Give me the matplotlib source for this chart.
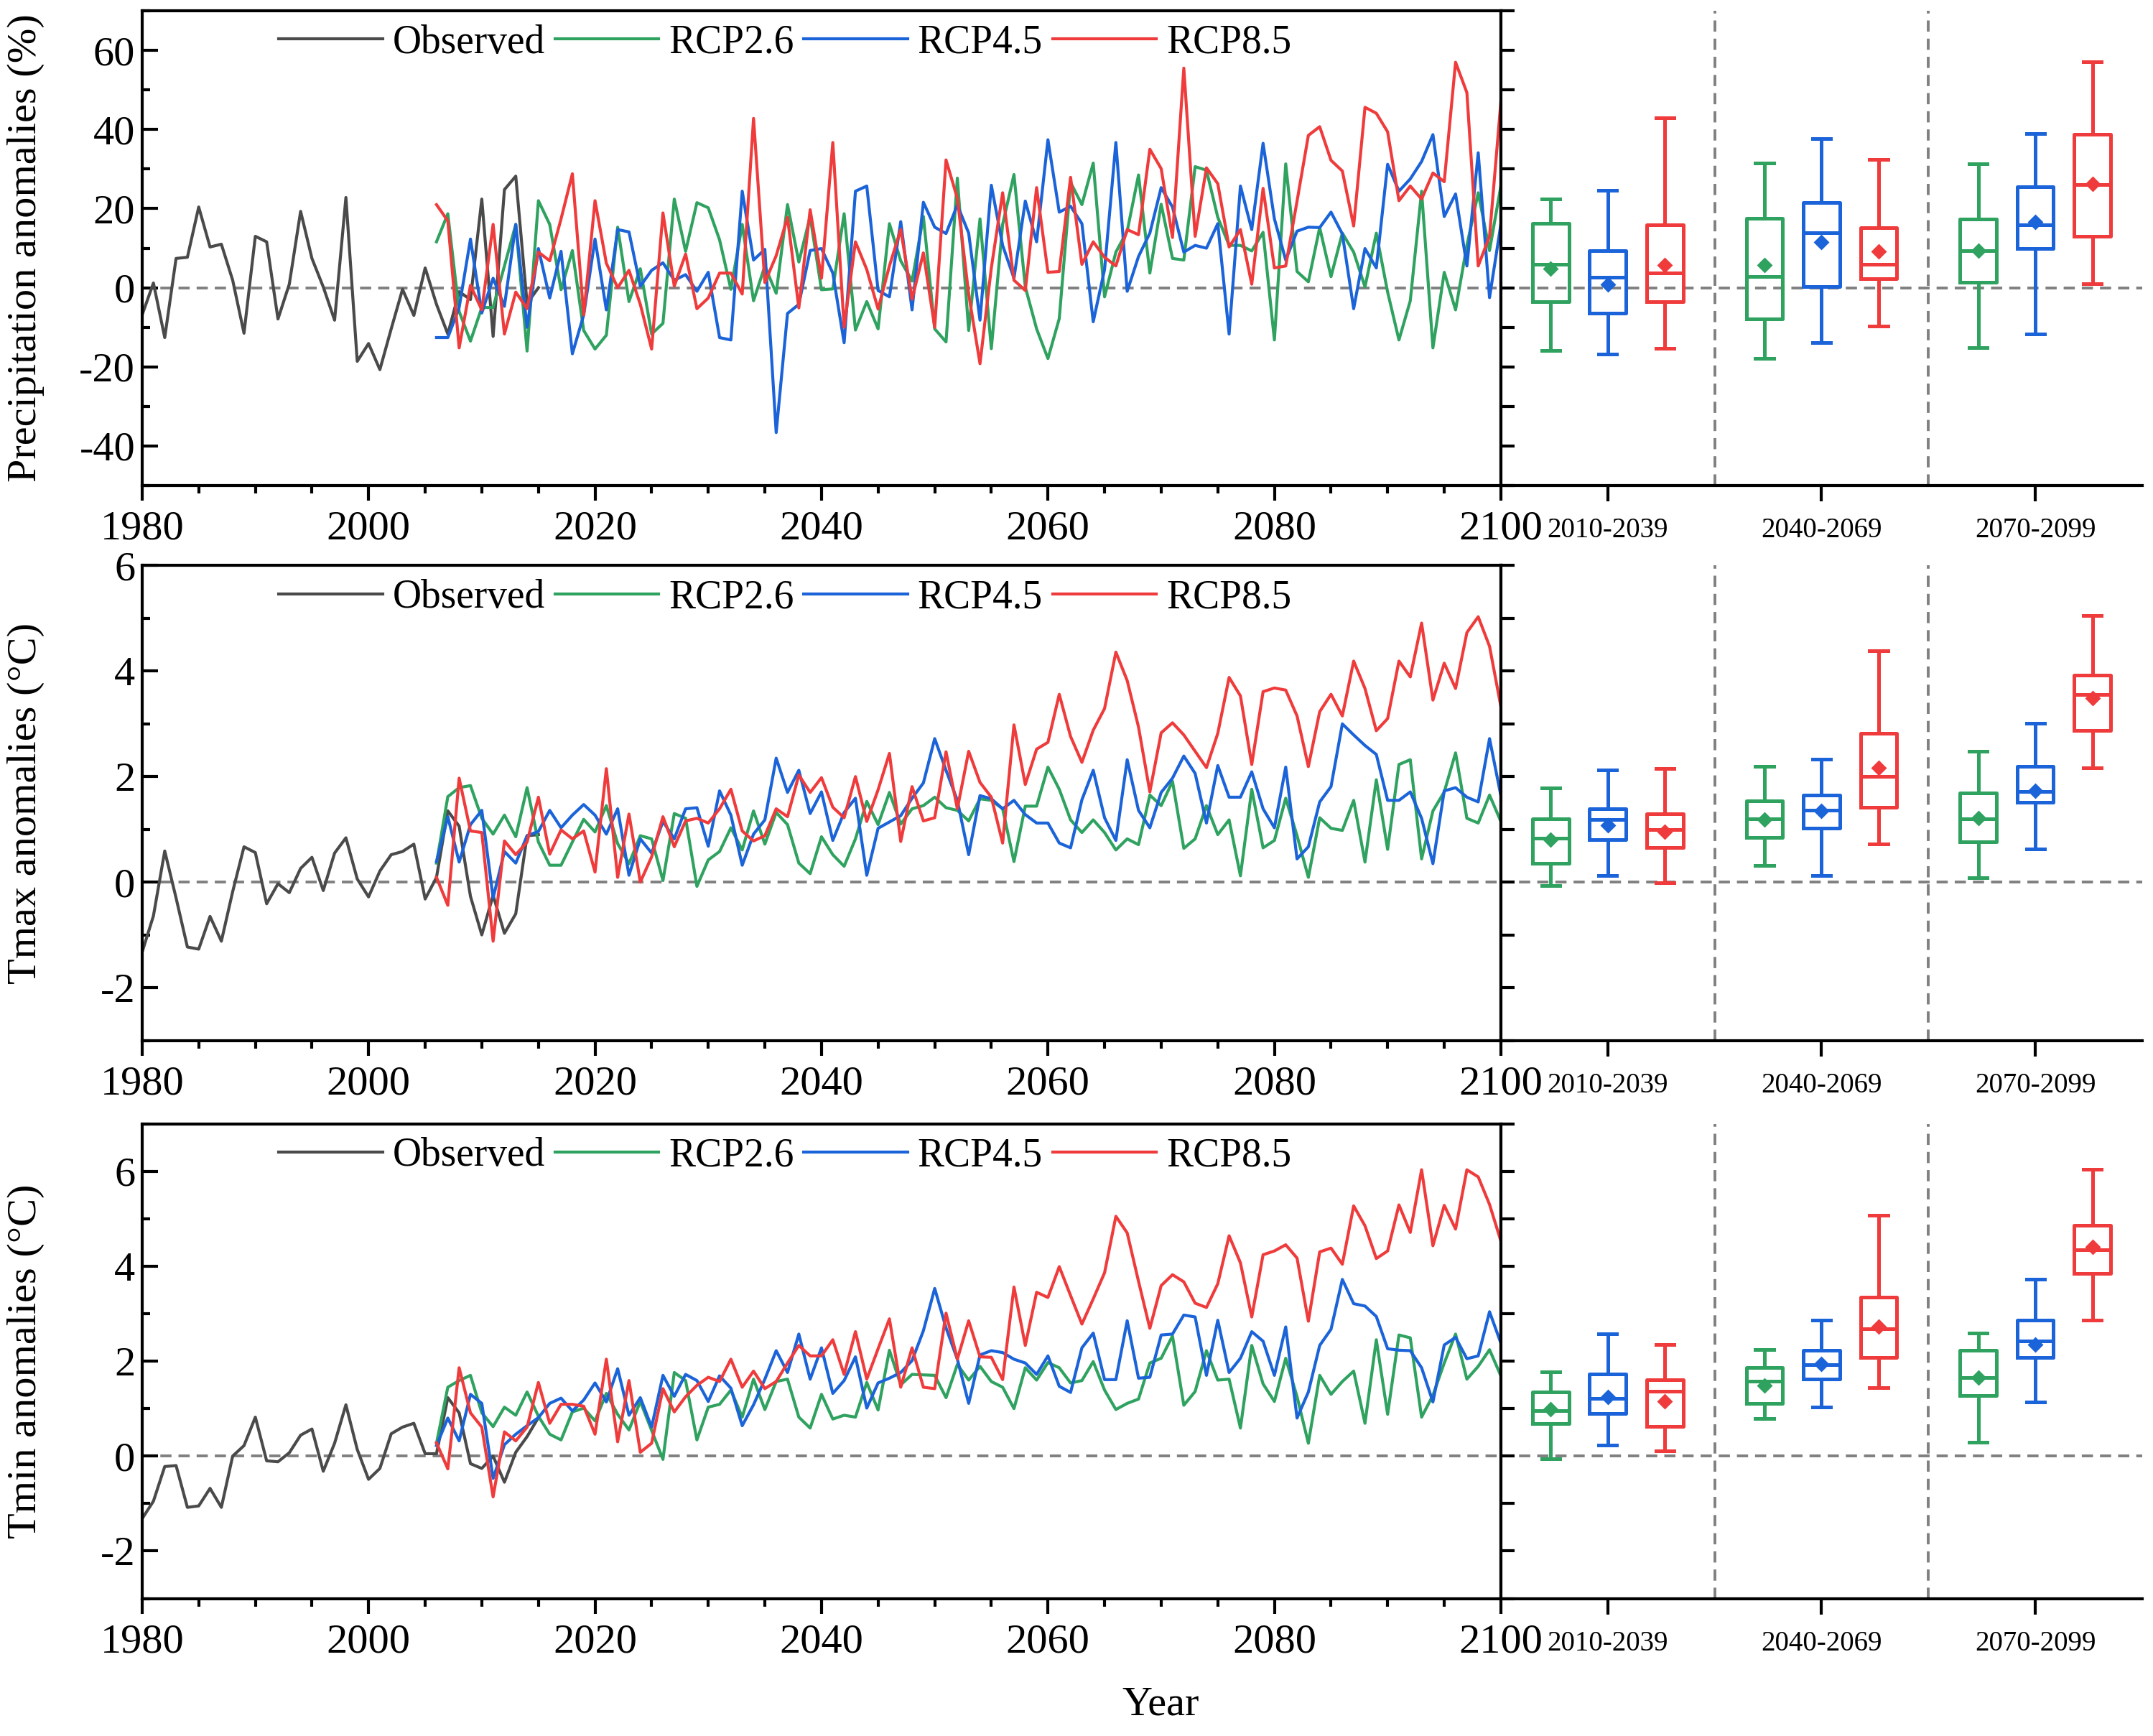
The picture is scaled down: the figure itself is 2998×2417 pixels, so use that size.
import numpy as np
import matplotlib.pyplot as plt
from matplotlib.ticker import MultipleLocator

plt.rcParams['font.family'] = ['Liberation Serif', 'DejaVu Serif']
plt.rcParams['axes.unicode_minus'] = False

# 年份
years_obs = np.arange(1980, 2016)
years_rcp = np.arange(2006, 2101)

# ---------------- Precipitation (%) ----------------
pr_obs = [-6.9, 1.2, -12.6, 7.4, 7.7, 20.4, 10.3, 11.0, 1.9, -11.5,
          13.0, 11.6, -7.9, 0.9, 19.3, 7.4, 0.2, -8.2, 22.8, -18.6,
          -14.1, -20.7, -10.4, -0.4, -7.0, 5.0, -4.2, -11.7, -1.0, -3.0,
          22.4, -12.3, 24.8, 28.2, -4.0, 0.0]
pr_26 = [11.6, 18.7, -6.0, -13.5, -5.0, -5.0, 5.5, 16.0, -16.0, 22.0,
         16.0, -0.5, 9.4, -10.8, -15.5, -12.0, 15.3, -3.5, 4.8, -11.7,
         -9.0, 22.4, 9.2, 21.5, 20.2, 12.1, -0.4, 16.0, -3.3, 5.5,
         -1.4, 21.0, 6.5, 18.0, -0.5, -0.3, 18.7, -10.7, -3.5, -10.4,
         16.2, 6.8, 1.7, 18.0, -10.4, -13.7, 27.7, -10.8, 17.4, -15.4,
         16.0, 28.6, 0.2, -10.4, -17.9, -7.8, 26.6, 21.0, 31.5, -2.3,
         9.0, 14.3, 28.5, 3.7, 21.1, 7.4, 7.0, 30.6, 29.7, 17.8,
         10.7, 10.7, 9.3, 14.0, -13.2, 31.3, 4.1, 1.5, 15.2, 2.8,
         13.8, 9.0, 0.2, 13.8, -1.1, -13.2, -3.3, 24.4, -15.2, 3.9,
         -5.6, 10.7, 24.0, 9.4, 25.7]
pr_45 = [-12.6, -12.6, -5.0, 12.3, -6.4, 2.4, -4.7, 16.0, -10.0, 9.9,
         -2.6, 9.2, -16.7, -6.9, 12.3, -5.6, 14.7, 14.1, 0.4, 4.4,
         6.3, 1.9, 3.3, -0.9, 3.9, -12.6, -13.2, 24.4, 7.0, 9.7,
         -36.6, -6.5, -4.2, 9.4, 9.9, 3.7, -13.9, 24.4, 25.7, -0.7,
         -2.3, 16.7, -5.6, 21.6, 15.3, 13.7, 20.9, 13.8, -8.2, 25.9,
         10.7, 2.4, 21.9, 11.6, 37.4, 19.1, 20.6, 16.2, -8.6, 4.6,
         36.7, -0.9, 7.9, 13.8, 25.3, 20.4, 9.0, 10.7, 10.0, 16.2,
         -11.7, 25.7, 14.7, 36.5, 17.4, 7.0, 14.3, 15.3, 15.2, 19.1,
         13.6, -5.3, 9.9, 5.0, 31.2, 24.4, 27.5, 31.9, 38.7, 18.0,
         23.7, 5.5, 34.1, -2.5, 16.0]
pr_85 = [21.0, 16.9, -15.2, 0.6, -5.6, 16.0, -11.7, -1.1, -5.3, 9.0,
         6.8, 17.4, 28.8, -6.9, 22.0, 6.2, 0.0, 4.4, -4.2, -15.5,
         18.9, 0.4, 8.5, -5.3, -2.6, 3.7, 3.7, -1.6, 42.8, 1.3,
         8.1, 17.8, -5.1, 19.7, 2.4, 36.7, -10.0, 11.6, 4.6, -5.4,
         5.5, 14.7, -2.9, 8.8, -10.0, 32.3, 22.6, -1.6, -19.2, 5.0,
         24.0, 1.9, -0.7, 25.3, 3.9, 4.1, 27.9, 5.9, 11.6, 7.7,
         5.5, 14.7, 13.4, 35.0, 30.1, 12.7, 55.5, 13.0, 30.3, 26.3,
         10.3, 14.7, 0.9, 25.1, 5.0, 5.5, 21.9, 38.5, 40.7, 32.2,
         29.5, 15.6, 45.6, 44.1, 39.4, 22.0, 25.7, 22.4, 29.0, 26.8,
         57.0, 49.3, 5.5, 13.0, 46.9]

# ---------------- Tmax (°C) ----------------
tx_obs = [-1.33, -0.64, 0.59, -0.30, -1.23, -1.27, -0.65, -1.12, -0.18, 0.67,
          0.56, -0.41, -0.03, -0.20, 0.26, 0.47, -0.16, 0.55, 0.84, 0.06,
          -0.28, 0.21, 0.52, 0.58, 0.72, -0.32, 0.09, 1.35, 1.06, -0.27,
          -1.00, -0.25, -0.97, -0.60, 0.88, 0.90]
tx_26 = [0.36, 1.62, 1.79, 1.83, 1.21, 0.91, 1.27, 0.86, 1.79, 0.76,
         0.32, 0.32, 0.76, 1.19, 0.95, 1.45, 0.73, 0.35, 0.88, 0.82,
         0.03, 1.30, 1.21, -0.08, 0.42, 0.58, 1.03, 0.61, 1.35, 0.72,
         1.32, 1.09, 0.36, 0.16, 0.86, 0.52, 0.30, 0.82, 1.53, 1.09,
         1.70, 1.10, 1.39, 1.45, 1.61, 1.41, 1.36, 1.16, 1.58, 1.55,
         1.39, 0.39, 1.44, 1.44, 2.18, 1.76, 1.18, 0.94, 1.18, 0.94,
         0.61, 0.82, 0.71, 1.65, 1.45, 1.91, 0.64, 0.82, 1.45, 0.90,
         1.18, 0.12, 1.76, 0.65, 0.79, 1.59, 0.88, 0.09, 1.22, 1.02,
         0.98, 1.55, 0.38, 1.94, 0.62, 2.23, 2.32, 0.44, 1.35, 1.71,
         2.45, 1.21, 1.12, 1.65, 1.15]
tx_45 = [0.39, 1.24, 0.38, 1.09, 1.36, -0.30, 0.58, 0.36, 0.88, 0.96,
         1.36, 1.03, 1.27, 1.47, 1.27, 0.91, 1.39, 0.13, 0.82, 0.55,
         1.15, 0.82, 1.39, 1.41, 0.68, 1.73, 1.27, 0.32, 0.91, 1.18,
         2.35, 1.70, 2.12, 1.30, 1.71, 0.79, 1.32, 1.59, 0.13, 1.02,
         1.14, 1.26, 1.59, 1.88, 2.72, 2.12, 1.55, 0.52, 1.64, 1.58,
         1.39, 1.55, 1.28, 1.12, 1.12, 0.74, 0.65, 1.56, 2.12, 1.22,
         0.79, 2.32, 1.36, 1.03, 1.70, 1.97, 2.39, 2.06, 1.12, 2.21,
         1.61, 1.61, 2.09, 1.39, 1.03, 2.18, 0.44, 0.67, 1.52, 1.81,
         3.00, 2.79, 2.59, 2.42, 1.55, 1.55, 1.71, 1.21, 0.35, 1.73,
         1.79, 1.61, 1.52, 2.72, 1.64]
tx_85 = [0.09, -0.44, 1.97, 0.97, 0.94, -1.12, 0.78, 0.52, 0.76, 1.61,
         0.53, 0.99, 0.82, 0.97, 0.19, 2.15, 0.09, 1.29, 0.00, 0.48,
         1.24, 0.67, 1.16, 1.21, 1.12, 1.39, 1.76, 0.97, 0.78, 0.88,
         1.39, 1.24, 2.03, 1.70, 1.98, 1.42, 1.22, 2.00, 1.15, 1.75,
         2.44, 0.77, 1.81, 1.16, 1.22, 2.47, 1.39, 2.48, 1.89, 1.61,
         0.74, 2.98, 1.85, 2.52, 2.65, 3.56, 2.76, 2.27, 2.88, 3.29,
         4.36, 3.82, 2.94, 1.71, 2.83, 3.02, 2.79, 2.48, 2.17, 2.82,
         3.88, 3.53, 2.23, 3.61, 3.68, 3.64, 3.15, 2.19, 3.23, 3.56,
         3.15, 4.19, 3.67, 2.87, 3.10, 4.19, 3.89, 4.91, 3.45, 4.15,
         3.67, 4.73, 5.03, 4.47, 3.33]

# ---------------- Tmin (°C) ----------------
tn_obs = [-1.32, -0.95, -0.22, -0.20, -1.08, -1.05, -0.68, -1.08, 0.00, 0.22,
          0.82, -0.10, -0.12, 0.07, 0.44, 0.57, -0.32, 0.27, 1.08, 0.14,
          -0.49, -0.26, 0.47, 0.61, 0.69, 0.05, 0.05, 1.23, 0.91, -0.16,
          -0.26, 0.00, -0.55, 0.08, 0.41, 0.81]
tn_26 = [0.27, 1.45, 1.59, 1.70, 0.91, 0.62, 1.03, 0.86, 1.35, 0.84,
         0.46, 0.34, 0.93, 1.01, 0.74, 1.32, 0.88, 0.55, 1.15, 0.54,
         -0.07, 1.76, 1.59, 0.34, 1.03, 1.09, 1.39, 0.82, 1.62, 0.98,
         1.57, 1.62, 0.82, 0.59, 1.30, 0.78, 0.86, 0.82, 1.55, 0.97,
         2.23, 1.50, 1.72, 1.71, 1.70, 1.23, 1.93, 1.60, 1.89, 1.57,
         1.45, 1.00, 1.86, 1.60, 1.97, 1.86, 1.54, 1.59, 1.99, 1.39,
         0.98, 1.11, 1.20, 1.96, 2.06, 2.53, 1.07, 1.36, 2.22, 1.60,
         1.62, 0.59, 2.33, 1.52, 1.15, 2.06, 1.25, 0.27, 1.70, 1.30,
         1.57, 1.79, 0.69, 2.45, 0.88, 2.55, 2.49, 0.82, 1.28, 1.96,
         2.57, 1.62, 1.89, 2.24, 1.69]
tn_45 = [0.22, 0.80, 0.32, 1.30, 1.11, -0.47, 0.24, 0.46, 0.64, 0.81,
         1.11, 1.22, 0.95, 1.18, 1.54, 1.14, 1.84, 0.86, 1.23, 0.61,
         1.70, 1.26, 1.72, 1.59, 1.15, 1.69, 1.43, 0.64, 1.08, 1.62,
         2.22, 1.76, 2.57, 1.62, 2.28, 1.32, 1.59, 2.09, 1.01, 1.54,
         1.64, 1.76, 2.01, 2.64, 3.53, 2.70, 2.04, 1.11, 2.13, 2.22,
         2.18, 2.04, 1.96, 1.72, 2.11, 1.47, 1.34, 2.28, 2.59, 1.61,
         1.61, 2.85, 1.64, 1.66, 2.55, 2.57, 2.97, 2.93, 1.70, 2.86,
         1.76, 2.06, 2.62, 2.42, 1.70, 2.72, 0.80, 1.35, 2.33, 2.67,
         3.72, 3.21, 3.16, 2.94, 2.26, 2.23, 2.22, 1.86, 1.14, 2.34,
         2.50, 2.05, 2.11, 3.04, 2.38]
tn_85 = [0.28, -0.27, 1.86, 0.91, 0.61, -0.86, 0.51, 0.32, 0.61, 1.55,
         0.69, 1.09, 1.09, 1.05, 0.46, 2.04, 0.30, 1.59, 0.08, 0.27,
         1.42, 0.93, 1.25, 1.49, 1.66, 1.57, 2.04, 1.45, 1.79, 1.42,
         1.57, 1.96, 2.33, 2.11, 2.11, 2.45, 1.72, 2.62, 1.62, 2.26,
         2.89, 1.45, 2.28, 1.45, 1.42, 3.01, 2.04, 2.85, 2.09, 2.08,
         1.61, 3.56, 2.33, 3.45, 3.34, 3.99, 3.38, 2.78, 3.31, 3.86,
         5.05, 4.70, 3.68, 2.69, 3.59, 3.82, 3.67, 3.22, 3.13, 3.63,
         4.64, 4.07, 2.93, 4.24, 4.32, 4.45, 4.17, 2.84, 4.30, 4.38,
         4.04, 5.27, 4.85, 4.16, 4.32, 5.29, 4.71, 6.03, 4.43, 5.28,
         4.78, 6.03, 5.88, 5.30, 4.53]

# 箱线图统计量: (下须, Q1, 中位数, Q3, 上须, 均值)，每个时段一组
periods = ['2010-2039', '2040-2069', '2070-2099']
pr_box_26 = [(-15.9, -3.5, 5.9, 16.3, 22.5, 4.8), (-17.9, -7.8, 2.8, 17.6, 31.6, 5.7), (-15.2, 1.4, 9.4, 17.4, 31.3, 9.4)]
pr_box_45 = [(-16.8, -6.4, 2.6, 9.4, 24.7, 0.9), (-13.8, 0.2, 13.9, 21.5, 37.6, 11.6), (-11.7, 10.0, 15.9, 25.5, 38.9, 16.6)]
pr_box_85 = [(-15.3, -3.5, 3.7, 15.9, 42.9, 5.7), (-9.7, 2.2, 5.9, 15.1, 32.5, 9.2), (1.0, 13.0, 26.1, 38.8, 57.1, 26.3)]
tx_box_26 = [(-0.07, 0.35, 0.83, 1.20, 1.79, 0.81), (0.31, 0.85, 1.20, 1.54, 2.19, 1.19), (0.09, 0.77, 1.20, 1.69, 2.48, 1.21)]
tx_box_45 = [(0.13, 0.81, 1.19, 1.39, 2.13, 1.08), (0.13, 1.03, 1.36, 1.65, 2.33, 1.35), (0.63, 1.51, 1.72, 2.19, 3.01, 1.73)]
tx_box_85 = [(-0.01, 0.66, 0.99, 1.30, 2.16, 0.95), (0.73, 1.42, 2.00, 2.82, 4.38, 2.17), (2.17, 2.88, 3.56, 3.92, 5.06, 3.49)]
tn_box_26 = [(-0.06, 0.69, 0.95, 1.35, 1.77, 0.98), (0.79, 1.11, 1.58, 1.86, 2.24, 1.49), (0.29, 1.27, 1.66, 2.23, 2.59, 1.66)]
tn_box_45 = [(0.23, 0.89, 1.22, 1.73, 2.58, 1.25), (1.03, 1.62, 1.93, 2.23, 2.86, 1.94), (1.14, 2.07, 2.42, 2.87, 3.73, 2.35)]
tn_box_85 = [(0.11, 0.62, 1.36, 1.60, 2.35, 1.16), (1.44, 2.08, 2.68, 3.35, 5.07, 2.73), (2.86, 3.85, 4.34, 4.86, 6.04, 4.40)]

c_obs, c26, c45, c85 = '#4a4a4a', '#2fa260', '#1b63d8', '#ef3b3b'
labels = ['Observed', 'RCP2.6', 'RCP4.5', 'RCP8.5']

panels = [
    ('Precipitation anomalies (%)', pr_obs, pr_26, pr_45, pr_85,
     [pr_box_26, pr_box_45, pr_box_85], (-50, 70), 20, 10),
    ('Tmax anomalies (°C)', tx_obs, tx_26, tx_45, tx_85,
     [tx_box_26, tx_box_45, tx_box_85], (-3, 6), 2, 1),
    ('Tmin anomalies (°C)', tn_obs, tn_26, tn_45, tn_85,
     [tn_box_26, tn_box_45, tn_box_85], (-3, 7), 2, 1),
]

fig = plt.figure(figsize=(2998 / 200, 2417 / 200), dpi=200)

bottoms = [0.7203, 0.4007, 0.0792]
height = 0.2735
left, wmain, wbox = 0.0660, 0.6311, 0.2979
spine_lw = 1.5
line_lw = 1.5
box_lw = 1.8
dash = (0, (4, 2.5))

for (ylab, obs, s26, s45, s85, boxes, ylim, major, minor), b in zip(panels, bottoms):
    ax = fig.add_axes([left, b, wmain, height])
    axb = fig.add_axes([left + wmain, b, wbox, height], sharey=ax)

    # 时间序列
    ax.plot(years_obs, obs, color=c_obs, lw=line_lw, label=labels[0])
    ax.plot(years_rcp, s26, color=c26, lw=line_lw, label=labels[1])
    ax.plot(years_rcp, s45, color=c45, lw=line_lw, label=labels[2])
    ax.plot(years_rcp, s85, color=c85, lw=line_lw, label=labels[3])
    ax.axhline(0, color='#808080', lw=1.4, ls=dash, zorder=0)

    ax.set_xlim(1980, 2100)
    ax.set_ylim(*ylim)
    ax.xaxis.set_major_locator(MultipleLocator(20))
    ax.xaxis.set_minor_locator(MultipleLocator(5))
    ax.yaxis.set_major_locator(MultipleLocator(major))
    ax.yaxis.set_minor_locator(MultipleLocator(minor))
    ax.tick_params(axis='y', which='major', direction='in', length=8, width=spine_lw, labelsize=21, right=False)
    ax.tick_params(axis='y', which='minor', direction='in', length=4, width=spine_lw, right=False)
    ax.tick_params(axis='x', which='major', direction='out', length=7.5, width=spine_lw, labelsize=21, top=False, pad=5)
    ax.tick_params(axis='x', which='minor', direction='out', length=4, width=spine_lw, top=False)
    for sp in ax.spines.values():
        sp.set_linewidth(spine_lw)
    ax.set_ylabel(ylab, fontsize=21)
    ax.yaxis.set_label_coords(-0.072, 0.5)

    ax.legend(loc='upper left', bbox_to_anchor=(0.083, 1.022), ncol=4, frameon=False,
              fontsize=20, handlelength=2.6, handletextpad=0.25, columnspacing=0.25,
              borderaxespad=0.2)

    # 箱线图
    offsets = [-0.267, 0.0, 0.267]
    for k, (stats_list, col) in enumerate(zip(boxes, [c26, c45, c85])):
        stats = [dict(whislo=s[0], q1=s[1], med=s[2], q3=s[3], whishi=s[4], mean=s[5])
                 for s in stats_list]
        pos = [i + offsets[k] for i in range(3)]
        axb.bxp(stats, positions=pos, widths=0.17, capwidths=0.085, showmeans=True,
                showfliers=False, manage_ticks=False,
                boxprops=dict(color=col, lw=box_lw),
                whiskerprops=dict(color=col, lw=box_lw),
                capprops=dict(color=col, lw=box_lw),
                medianprops=dict(color=col, lw=box_lw),
                meanprops=dict(marker='D', markerfacecolor=col, markeredgecolor=col, markersize=4.5))
    axb.axhline(0, color='#808080', lw=1.4, ls=dash, zorder=0)
    for xv in [0.5, 1.5]:
        axb.axvline(xv, color='#808080', lw=1.4, ls=dash, zorder=0)

    axb.set_xlim(-0.5, 2.5)
    axb.set_xticks(range(3))
    axb.set_xticklabels(periods, fontsize=14)
    axb.spines['top'].set_visible(False)
    axb.spines['right'].set_visible(False)
    axb.spines['left'].set_linewidth(spine_lw)
    axb.spines['bottom'].set_linewidth(spine_lw)
    axb.tick_params(axis='y', which='both', direction='in', length=7, width=spine_lw, labelleft=False)
    axb.tick_params(axis='x', direction='out', length=8, width=spine_lw, pad=8)

fig.text(0.539, 0.018, 'Year', fontsize=21, ha='center', va='center')

fig.savefig('out.png', dpi=200)
